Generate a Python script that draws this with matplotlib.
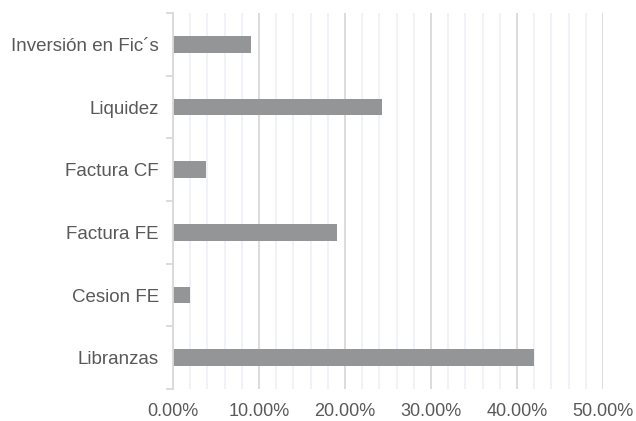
import matplotlib.pyplot as plt
import numpy as np
from matplotlib.ticker import MultipleLocator, FuncFormatter

plt.rcParams['font.family'] = ['Liberation Sans', 'DejaVu Sans']

categorias = ["Libranzas", "Cesion FE", "Factura FE", "Factura CF", "Liquidez", "Inversión en Fic´s"]
valores = [0.420, 0.020, 0.191, 0.038, 0.243, 0.091]

fig = plt.figure(figsize=(6.36, 4.21), dpi=100)
ax = fig.add_axes([0.272, 0.076, 0.676, 0.893])

y = np.arange(len(categorias))
ax.barh(y, valores, height=0.27, color="#949596", zorder=3)

ax.set_xlim(0, 0.5)
ax.set_ylim(-0.5, len(categorias) - 0.5)

ax.xaxis.set_major_locator(MultipleLocator(0.1))
ax.xaxis.set_minor_locator(MultipleLocator(0.02))
ax.xaxis.set_major_formatter(FuncFormatter(lambda v, p: f"{v*100:.2f}%"))
ax.grid(axis="x", which="major", color="#d9d9d9", linewidth=1.3, zorder=1)
ax.grid(axis="x", which="minor", color="#eef1f6", linewidth=1.3, zorder=0)
ax.tick_params(axis="x", which="both", length=0, labelsize=13, labelcolor="#595959", pad=10)

ax.set_yticks(y)
ax.set_yticklabels(categorias)
ax.set_yticks(np.arange(-0.5, len(categorias)), minor=True)
ax.tick_params(axis="y", which="major", length=0, labelsize=13.5, labelcolor="#595959", pad=10)
ax.tick_params(axis="y", which="minor", length=5, color="#d9d9d9", width=1.3)

for s in ["top", "right", "bottom"]:
    ax.spines[s].set_visible(False)
ax.spines["left"].set_color("#d9d9d9")
ax.spines["left"].set_linewidth(1.3)
ax.spines["left"].set_zorder(4)

fig.savefig("out.png", dpi=100)
